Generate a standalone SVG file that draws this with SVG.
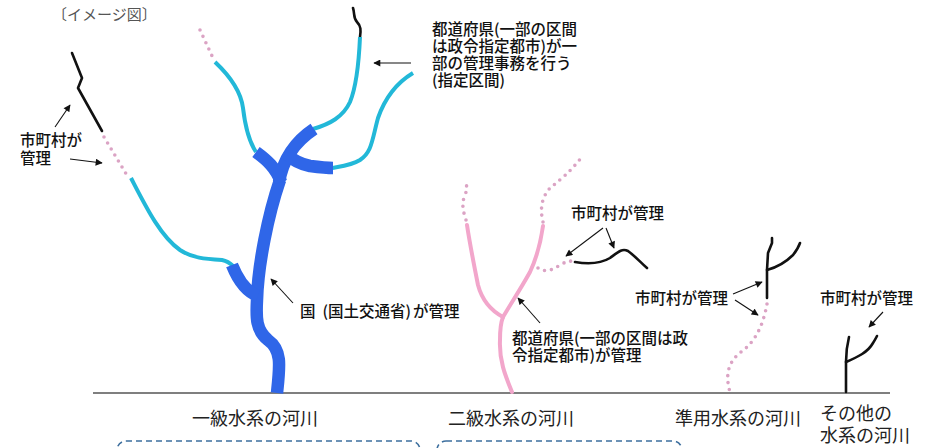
<svg xmlns="http://www.w3.org/2000/svg" width="935" height="448" viewBox="0 0 935 448">
  <defs>
    <marker id="ah" viewBox="0 0 10 10" refX="9" refY="5" markerWidth="8" markerHeight="7" markerUnits="userSpaceOnUse" orient="auto">
      <path d="M0,0 L10,5 L0,10 z" fill="#111"/>
    </marker>
    <style>
      .nat { fill: none; stroke: #2f66e8; stroke-width: 12.5; stroke-linecap: butt; stroke-linejoin: round; }
      .pref { fill: none; stroke: #22b8d8; stroke-width: 4; stroke-linecap: butt; stroke-linejoin: round; }
      .pink { fill: none; stroke: #f2a6cb; stroke-width: 4; stroke-linecap: round; stroke-linejoin: round; }
      .dots { fill: none; stroke: #dba3c4; stroke-width: 3.6; stroke-linecap: round; stroke-dasharray: 0 7; }
      .muni { fill: none; stroke: #111; stroke-width: 2.6; stroke-linecap: round; stroke-linejoin: round; }
      .arrow { fill: none; stroke: #111; stroke-width: 1.1; marker-end: url(#ah); }
      .ground { stroke: #555; stroke-width: 1.6; }
      .box { fill: none; stroke: #3d6f9e; stroke-width: 1.6; stroke-dasharray: 6 4; }
      .lbl { font-family: "Noto Sans CJK JP", sans-serif; font-size: 15.5px; fill: #111; font-weight: 500; }
      .cap { font-family: "Noto Sans CJK JP", sans-serif; font-size: 18px; fill: #222; font-weight: 400; }
      .note { font-family: "Noto Sans CJK JP", sans-serif; font-size: 15px; fill: #555; font-weight: 400; }
    </style>
  </defs>
  <rect width="935" height="448" fill="#fff"/>

  <text class="note" x="52" y="20">〔イメージ図〕</text>

  <!-- ground line -->
  <line class="ground" x1="93" y1="393" x2="890" y2="393"/>

  <!-- first-class river system -->
  <g id="river-class1">
    <path class="muni" d="M72 53 L82 78 L78 88 L102 131"/>
    <path class="dots" d="M104 137 L128 177"/>
    <path class="pref" d="M131 178 C145 205 160 236 180 250 C192 258 205 259 222 260 C227 261 230 263 233 266"/>
    <path class="dots" d="M200 30 L213 58"/>
    <path class="pref" d="M215 62 C232 78 241 92 243 108 C245 125 248 140 256 152"/>
    <path class="muni" d="M353 8 C355 14 353 18 357 22 C361 26 361 30 360 37"/>
    <path class="pref" d="M360 37 C359 60 357 85 350 102 C343 117 330 124 313 129"/>
    <path class="pref" d="M413 73 C398 82 386 95 378 118 C372 140 372 152 360 160 C352 165 343 166 332 168"/>
    <path class="nat" d="M277 393 C280 365 282 350 268 340 C256 330 256 318 257 300 C258 265 268 215 280 180"/>
    <path class="nat" d="M279 182 C283 160 293 143 314 129"/>
    <path class="nat" d="M281 182 C276 168 267 160 256 152"/>
    <path class="nat" d="M288 155 C293 160 300 164 310 166 C318 167 326 168 333 168"/>
    <path class="nat" d="M258 296 C247 292 238 280 232 265"/>
  </g>

  <!-- second-class river system -->
  <g id="river-class2">
    <path class="dots" d="M466 220 C462 208 462 202 465 195 C467 190 467 187 466 183"/>
    <path class="dots" d="M543 222 C540 210 541 198 550 188 C560 180 570 172 581 158"/>
    <path class="dots" d="M538 268 C545 273 553 270 560 265 C565 262 569 261 573 261"/>
    <path class="pink" d="M512 392 C505 375 499 360 500 340 C500 330 501 322 503 317"/>
    <path class="pink" d="M503 317 C490 310 482 300 478 285 C474 265 470 245 467 225"/>
    <path class="pink" d="M503 317 C510 305 520 290 530 272 C538 255 541 240 543 226"/>
    <path class="muni" d="M575 262 C587 264 600 264 610 258 C618 252 622 248 628 251 C635 256 640 262 647 268"/>
  </g>

  <!-- quasi-class river -->
  <g id="river-quasi">
    <path class="dots" d="M767 304 C764 320 758 340 741 352 C728 362 725 375 730 392"/>
    <path class="muni" d="M767 298 L767 270 L768 253 L772 243 L772 238"/>
    <path class="muni" d="M767 270 C778 267 788 260 793 255 C797 250 799 246 800 243"/>
  </g>

  <!-- other river -->
  <g id="river-other">
    <path class="muni" d="M846 392 L846 362 C846 352 847 345 849 337"/>
    <path class="muni" d="M846 362 C858 357 868 352 873 343 C875 340 876 338 877 336"/>
  </g>

  <!-- leader arrows -->
  <g id="connectors">
    <line class="arrow" x1="55" y1="127" x2="70" y2="105"/>
    <line class="arrow" x1="70" y1="159" x2="102" y2="163"/>
    <line class="arrow" x1="411" y1="63" x2="374" y2="63"/>
    <line class="arrow" x1="293" y1="303" x2="271" y2="279"/>
    <line class="arrow" x1="603" y1="228" x2="566" y2="256"/>
    <line class="arrow" x1="606" y1="228" x2="614" y2="248"/>
    <line class="arrow" x1="540" y1="323" x2="518" y2="298"/>
    <line class="arrow" x1="733" y1="294" x2="762" y2="282"/>
    <line class="arrow" x1="735" y1="300" x2="758" y2="315"/>
    <line class="arrow" x1="883" y1="312" x2="869" y2="327"/>
  </g>

  <!-- labels -->
  <g id="label-muni-1">
    <text class="lbl"><tspan x="20" y="146">市町村が</tspan><tspan x="20" y="164">管理</tspan></text>
  </g>
  <g id="label-designated">
    <text class="lbl"><tspan x="432" y="35">都道府県(一部の区間</tspan><tspan x="432" y="52">は政令指定都市)が一</tspan><tspan x="432" y="69">部の管理事務を行う</tspan><tspan x="432" y="86">(指定区間)</tspan></text>
  </g>
  <g id="label-national">
    <text class="lbl" x="300" y="317">国<tspan dx="7">(国土交通省)</tspan><tspan dx="2">が管理</tspan></text>
  </g>
  <g id="label-muni-2">
    <text class="lbl" x="571" y="219">市町村が管理</text>
  </g>
  <g id="label-pref">
    <text class="lbl"><tspan x="512" y="344">都道府県(一部の区間は政</tspan><tspan x="512" y="361">令指定都市)が管理</tspan></text>
  </g>
  <g id="label-muni-3">
    <text class="lbl" x="635" y="304">市町村が管理</text>
  </g>
  <g id="label-muni-4">
    <text class="lbl" x="820" y="304">市町村が管理</text>
  </g>

  <!-- category captions -->
  <g id="captions">
    <text class="cap" x="192" y="425">一級水系の河川</text>
    <text class="cap" x="448" y="425">二級水系の河川</text>
    <text class="cap" x="675" y="425">準用水系の河川</text>
    <text class="cap"><tspan x="820" y="420">その他の</tspan><tspan x="820" y="442">水系の河川</tspan></text>
  </g>

  <!-- dashed brackets -->
  <rect class="box" x="117" y="441" width="303" height="40" rx="9"/>
  <rect class="box" x="437" y="441" width="245" height="40" rx="9"/>
</svg>
